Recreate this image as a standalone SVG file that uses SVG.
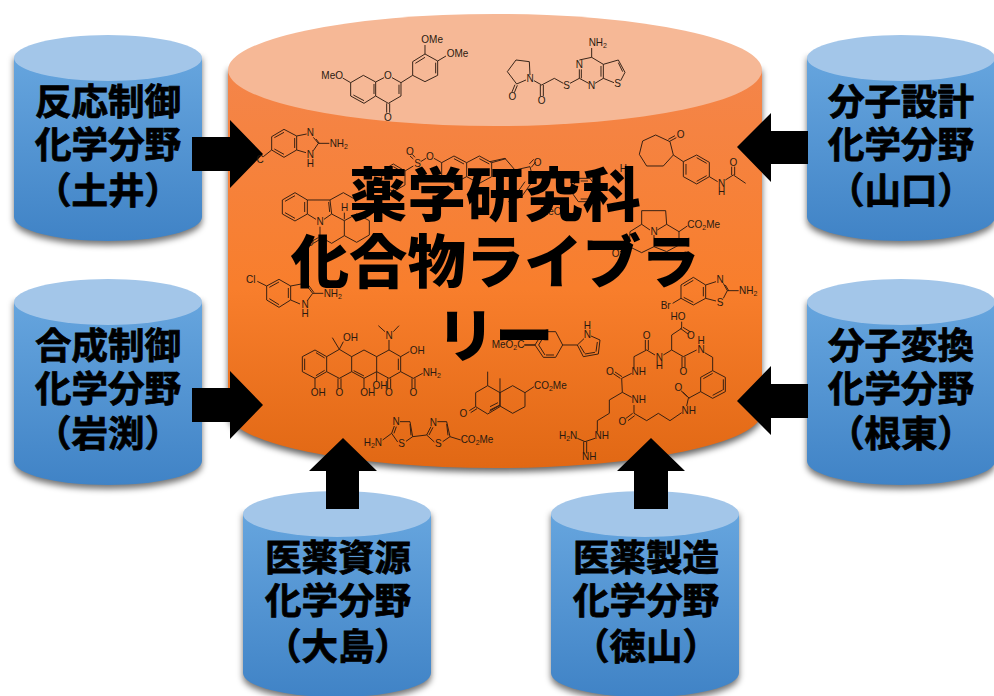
<svg xmlns="http://www.w3.org/2000/svg" width="994" height="696" viewBox="0 0 994 696">
<style>
.lbl{font-family:"Noto Sans CJK JP","Liberation Sans",sans-serif;font-weight:700;font-size:36.5px;text-anchor:middle;fill:#000;stroke:#000;stroke-width:.8px}
.ttl{font-family:"Noto Sans CJK JP","Liberation Sans",sans-serif;font-weight:900;font-size:58.4px;text-anchor:middle;fill:#000}
.b{fill:none;stroke:#2a1a10;stroke-width:2.8;stroke-linejoin:round}
.t{font-family:"Liberation Sans",Arial,sans-serif;font-size:30px;fill:#2a1a10}
.c{text-anchor:middle}
.s{font-size:21px}
</style>
<defs>
<linearGradient id="blue" x1="0" y1="0" x2="0" y2="1"><stop offset="0" stop-color="#66A5DE"/><stop offset="1" stop-color="#4083C6"/></linearGradient>
<linearGradient id="orange" x1="0" y1="0" x2="0" y2="1"><stop offset="0" stop-color="#F4854A"/><stop offset=".55" stop-color="#F87E2C"/><stop offset="1" stop-color="#E16814"/></linearGradient>
<filter id="sh" x="-10%" y="-10%" width="120%" height="120%"><feGaussianBlur stdDeviation="3"/></filter>
<path id="smallBody" d="M-94 23V182A94 24 0 0 0 94 182V23Z" fill="url(#blue)"/>
<path id="smallShadow" d="M-94 23V186A94 24 0 0 0 94 186V23Z" fill="#000" fill-opacity=".55" filter="url(#sh)"/>
<ellipse id="smallTop" cx="0" cy="23" rx="94" ry="23" fill="#A3C6E9"/>
<g id="cyl"><use href="#smallShadow"/><use href="#smallBody"/><use href="#smallTop"/></g>
</defs>
<rect width="994" height="696" fill="#fff"/>

<g id="node-doi"><use href="#cyl" x="108" y="35"/><text class="lbl" x="108" y="115">反応制御</text><text class="lbl" x="108" y="158">化学分野</text><text class="lbl" x="108" y="204">（土井）</text></g>
<g id="node-iwabuchi"><use href="#cyl" x="108" y="279"/><text class="lbl" x="108" y="359">合成制御</text><text class="lbl" x="108" y="402">化学分野</text><text class="lbl" x="108" y="447">（岩渕）</text></g>
<g id="node-yamaguchi"><use href="#cyl" x="901" y="35"/><text class="lbl" x="901" y="115">分子設計</text><text class="lbl" x="901" y="158">化学分野</text><text class="lbl" x="901" y="204">（山口）</text></g>
<g id="node-nemoto"><use href="#cyl" x="901" y="279"/><text class="lbl" x="901" y="359">分子変換</text><text class="lbl" x="901" y="402">化学分野</text><text class="lbl" x="901" y="447">（根東）</text></g>
<g id="node-oshima"><use href="#cyl" x="337" y="491"/><text class="lbl" x="338" y="571">医薬資源</text><text class="lbl" x="338" y="614">化学分野</text><text class="lbl" x="338" y="660">（大島）</text></g>
<g id="node-tokuyama"><use href="#cyl" x="645" y="491"/><text class="lbl" x="646" y="571">医薬製造</text><text class="lbl" x="646" y="614">化学分野</text><text class="lbl" x="646" y="660">（徳山）</text></g>

<g id="node-library-body">
<path d="M228 70V416A267 56 0 0 0 762 416V70Z" fill="#000" fill-opacity=".6" filter="url(#sh)"/>
<path d="M228 70V412A267 56 0 0 0 762 412V70Z" fill="url(#orange)"/>
<ellipse cx="495" cy="70" rx="267" ry="56" fill="#F6B896"/>
</g>

<g id="connectors" fill="#000">
<path d="M192 137H230V120L263 154L230 188V171H192Z"/>
<path d="M192 388H230V371L263 405L230 439V422H192Z"/>
<path d="M808 131H771V113L737 147L771 182V164H808Z"/>
<path d="M808 384H771V366L737 401L771 435V418H808Z"/>
<path d="M326 509V471H309L343 438L377 471H359V509Z"/>
<path d="M634 509V471H617L651 438L685 471H668V509Z"/>
</g>

<g id="molecules">
<g transform="translate(230,10) scale(.33333)">
<path class="b" d="M362 218L400 196L437 216V258L402 280L362 258ZM370 255L402 272M432 222V252M437 216L462 203M486 203L513 218V258L475 280L437 258M507 224V252M470 280V308M479 280V308M513 218L548 196V155L585 132L623 153V196L585 215L548 196M556 160L585 142M617 158V190M585 132V105M623 153L648 138M362 218L338 204"/>
<text class="t c" x="474" y="206">O</text><text class="t c" x="474" y="332">O</text><text class="t" x="574" y="98">OMe</text><text class="t" x="650" y="141">OMe</text><text class="t" x="274" y="207">MeO</text>
<path class="b" d="M125 380L162 358L200 378V420L162 442L125 420ZM133 383L162 367M133 417L162 433M194 384V414M200 378L230 372M200 420L228 428M250 382L265 400L250 422M258 387L268 400M265 400H298M125 420L100 440"/>
<text class="t c" x="241" y="378">N</text><text class="t c" x="241" y="445">N</text><text class="t c" x="241" y="471">H</text><text class="t" x="299" y="412">NH<tspan class="s" dy="6">2</tspan></text><text class="t c" x="90" y="458">C</text>
<path class="b" d="M490 462L525 483V525L490 545L455 525V483ZM490 470L518 486M525 483L550 468M572 455L588 445M612 445L635 458L672 438L710 458V500L672 520L635 500V458M672 446L702 462M710 458L748 438L785 458V500L748 520L710 500M748 446L778 462M550 447L540 438M555 442L547 433M785 458L828 446"/>
<text class="t c" x="563" y="470">S</text><text class="t c" x="540" y="434">O</text><text class="t c" x="600" y="450">O</text>
<path class="b" d="M157 570L195 548L232 570V612L195 633L157 612ZM165 574L195 557M224 576V606M165 608L195 625M232 570H300L305 612L282 628M258 628L232 612M296 576L299 606M300 570L340 548L372 566M305 612L343 632M343 632V677M343 632L380 612L418 632V675L380 697L343 677M270 650V680L305 700L343 677M343 608V628M265 683L245 694M270 688L250 700"/>
<text class="t c" x="270" y="645">N</text><text class="t c" x="344" y="602">H</text><text class="t c" x="240" y="708">O</text>
</g>
<g transform="translate(490,10) scale(.33333)">
<path class="b" d="M0 455L45 445L75 480L120 470M120 470L130 510L95 560L55 575M118 462L131 448M124 472L137 456M105 515L70 565M265 505H300L325 540L300 575H265L240 540ZM272 513H294M272 567H294"/>
<text class="t c" x="143" y="468">O</text><text class="t" x="150" y="616">MeO</text><text class="t c" x="400" y="485">H</text>
<path class="b" d="M497 375L540 395L550 435L520 468H470L448 433L458 393ZM535 388L555 377M539 394L559 383M550 435L580 455L620 435L658 457V500L620 522L580 500V455M588 462V494M620 443L650 460M620 514L650 497M658 500L683 515M706 510L730 495L767 520M725 495V470M734 495V470"/>
<text class="t c" x="572" y="383">O</text><text class="t c" x="695" y="530">N</text><text class="t c" x="695" y="555">H</text><text class="t c" x="730" y="468">O</text>
<path class="b" d="M52 185L78 150L118 155L120 195M108 210L80 222L52 185M75 224L66 246M82 226L73 248M132 212L155 225L193 205L220 220M151 225V258M160 225V258M240 220L268 205M268 205V178M274 205V178M268 150L305 142L340 163V205L315 220M296 220L268 205M305 142L305 114M340 163L385 150L405 187L392 212M372 218L340 205M333 168V200M385 158L398 185"/>
<text class="t c" x="120" y="215">N</text><text class="t c" x="67" y="270">O</text><text class="t c" x="155" y="282">O</text><text class="t c" x="230" y="236">S</text><text class="t c" x="268" y="173">N</text><text class="t c" x="305" y="237">N</text><text class="t c" x="383" y="231">S</text><text class="t" x="296" y="108">NH<tspan class="s" dy="6">2</tspan></text>
</g>
<g transform="translate(600,190) scale(.33333)">
<path class="b" d="M125 62H197L200 103L172 120M150 120L125 103V62M125 103L90 125L88 170L125 188L162 170V135M200 103L237 125V165L200 185L162 170M237 125L262 108M88 170L60 185"/>
<text class="t c" x="162" y="135">N</text><text class="t" x="262" y="114">CO<tspan class="s" dy="6">2</tspan><tspan dy="-6">Me</tspan></text><text class="t c" x="47" y="200">O</text>
</g>
<g transform="translate(230,240) scale(.33333)">
<path class="b" d="M110 138L147 118L182 138V180L147 202L110 180ZM118 142L147 126M118 176L147 194M175 144V174M110 138L82 124M182 138L225 130L248 160L232 182M182 180L210 192M235 135L252 158M248 160H280"/>
<text class="t c" x="62" y="128">Cl</text><text class="t c" x="225" y="205">N</text><text class="t c" x="225" y="232">H</text><text class="t" x="281" y="172">NH<tspan class="s" dy="6">2</tspan></text>
<path class="b" d="M217 350L255 330L290 350V395L255 415L217 395ZM224 356V390M258 338L284 354M258 407L284 391M290 350L328 328L365 350V395L328 415L290 395M365 350L402 330L440 350V395L402 415L365 395M371 392L402 408M440 350L477 330L512 350V395L477 415L440 395M505 356V390M328 328L307 293M328 328L340 305M477 330V300M465 275L445 257M490 275L507 257M512 350L538 335M512 395L550 415L578 400M546 415V445M555 415V445M255 415V445M324 415V445M333 415V445M402 415V445M440 395V425M473 415V445M482 415V445"/>
<text class="t" x="339" y="303">OH</text><text class="t c" x="477" y="298">N</text><text class="t" x="539" y="343">OH</text><text class="t" x="578" y="408">NH<tspan class="s" dy="6">2</tspan></text><text class="t c" x="550" y="468">O</text><text class="t c" x="265" y="468">OH</text><text class="t c" x="328" y="468">O</text><text class="t c" x="413" y="468">OH</text><text class="t c" x="450" y="447">OH</text><text class="t c" x="477" y="468">O</text>
<path class="b" d="M458 600L485 580L493 558M492 580L499 560M510 545H540L548 590L528 604M540 552L543 586M503 606L485 580M548 590L590 585L603 560M597 585L609 562M622 545H650L660 590L638 605M650 552L654 586M613 606L590 585M660 590L692 600"/>
<text class="t" x="401" y="617">H<tspan class="s" dy="6">2</tspan><tspan dy="-6">N</tspan></text><text class="t c" x="498" y="555">N</text><text class="t c" x="515" y="622">S</text><text class="t c" x="610" y="558">N</text><text class="t c" x="625" y="622">S</text><text class="t" x="692" y="610">CO<tspan class="s" dy="6">2</tspan><tspan dy="-6">Me</tspan></text>
<path class="b" d="M773 395V437L737 458V500L773 522L810 500V458L773 437M737 500L718 512M741 506L722 518M778 514L808 497"/>
<text class="t c" x="700" y="532">O</text>
</g>
<g transform="translate(490,240) scale(.33333)">
<path class="b" d="M30 415V458L68 437L105 458V500L68 520L30 498V458M105 458L132 440M0 510L30 495M0 500L24 488"/>
<text class="t" x="132" y="447">CO<tspan class="s" dy="6">2</tspan><tspan dy="-6">Me</tspan></text>
<path class="b" d="M103 315H135L160 275H197L218 315L197 352H160L135 315ZM146 315L165 283M146 315L165 345M168 345H192M218 315H262L282 296M303 288L330 300L325 342L280 350L262 315M322 306L318 335M285 342L315 337M270 317L284 340"/>
<text class="t" x="5" y="325">MeO<tspan class="s" dy="6">2</tspan><tspan dy="-6">C</tspan></text><text class="t c" x="292" y="293">N</text><text class="t c" x="292" y="267">H</text>
<path class="b" d="M575 265L545 285V330L520 345M575 265V245M571 265L594 282M579 262L602 276M545 330L580 350L620 330M576 350V382M585 350V382M644 338L668 352V392L706 412V455L668 475L632 455V412L668 392M700 418V450M668 466L698 450M640 416L668 400M632 455L595 475L590 498M592 470L573 452M598 475L578 456M575 518L540 542L505 520L470 542L432 520M428 520L408 535M434 527L414 542M432 520V495M425 472L397 457L395 415M391 415L370 401M396 410L375 396M395 415L425 400M432 385V350L470 330M466 330V300M475 330V300M470 330L495 345M397 457L358 480V520L322 542V575M315 595L285 605L262 595M281 605V640M290 605V640"/>
<text class="t c" x="564" y="240">HO</text><text class="t c" x="603" y="297">O</text><text class="t c" x="508" y="362">N</text><text class="t c" x="508" y="388">H</text><text class="t c" x="580" y="405">O</text><text class="t c" x="633" y="338">N</text><text class="t c" x="633" y="312">H</text><text class="t c" x="565" y="452">O</text><text class="t c" x="596" y="522">NH</text><text class="t c" x="397" y="555">O</text><text class="t c" x="446" y="490">NH</text><text class="t c" x="360" y="405">O</text><text class="t c" x="446" y="405">NH</text><text class="t c" x="470" y="297">O</text><text class="t c" x="335" y="597">NH</text><text class="t" x="207" y="597">H<tspan class="s" dy="6">2</tspan><tspan dy="-6">N</tspan></text><text class="t c" x="298" y="660">NH</text>
<path class="b" d="M573 135L610 112L647 135V175L610 195L573 175ZM581 138L610 121M640 141V169M581 172L610 187M647 135L678 125M647 175L678 183M700 130L712 152L700 175M706 135L716 152M712 152H746M573 175L548 190"/>
<text class="t c" x="527" y="207">Br</text><text class="t c" x="690" y="128">N</text><text class="t c" x="690" y="198">S</text><text class="t" x="747" y="163">NH<tspan class="s" dy="6">2</tspan></text>
</g>
</g>

<g id="node-library-title">
<text class="ttl" x="495" y="216">薬学研究科</text>
<text class="ttl" x="495" y="283">化合物ライブラ</text>
<text class="ttl" x="495" y="357">リー</text>
</g>
</svg>
